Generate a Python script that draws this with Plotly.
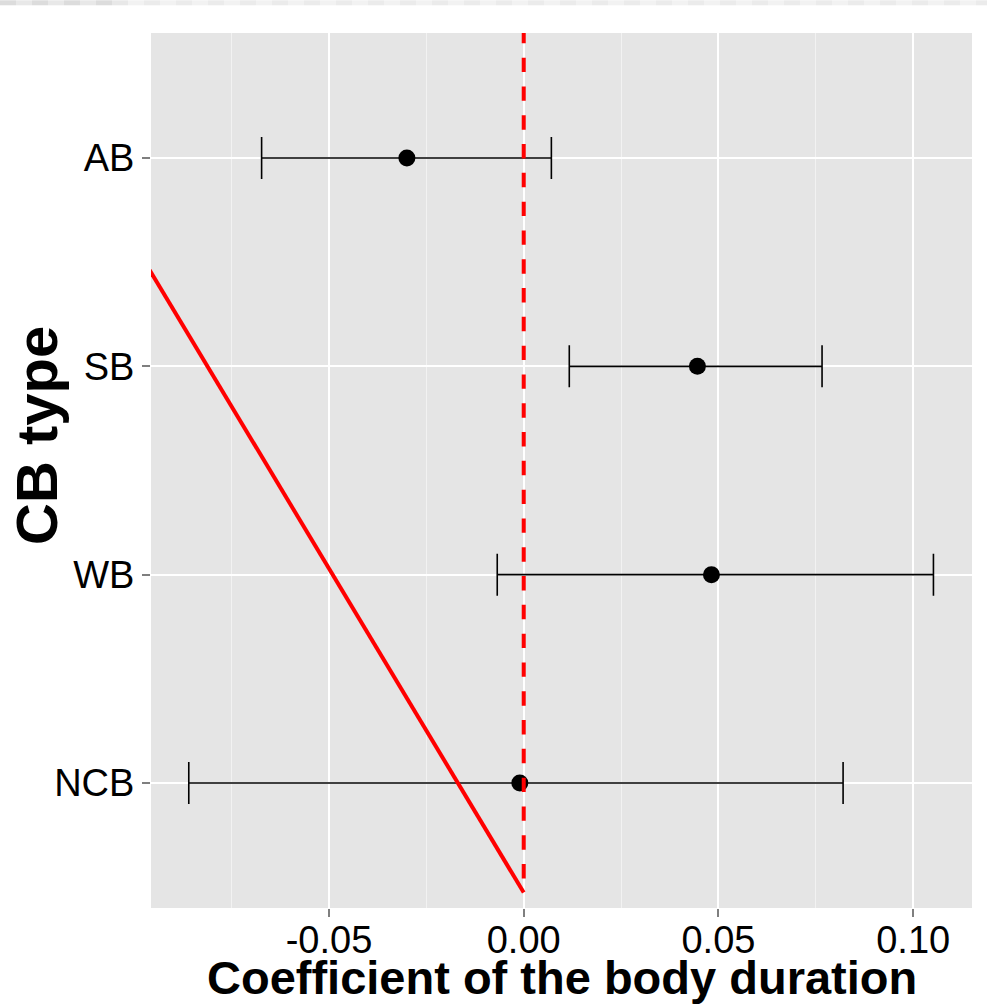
import plotly.graph_objects as go

# ---- data ----
categories = ["AB", "SB", "WB", "NCB"]
cat_pos = [4, 3, 2, 1]
estimate = [-0.0300, 0.0446, 0.0482, -0.0010]
ci_low = [-0.0673, 0.0117, -0.0068, -0.0860]
ci_high = [0.0071, 0.0766, 0.1052, 0.0820]

# reference lines (data coordinates)
diag_x = [-0.1, 0.0]
diag_y = [3.585, 0.474]
vline_x = [0.0, 0.0]
vline_y = [4.62, 0.474]

x_ticks = [-0.05, 0.0, 0.05, 0.10]
x_ticklabels = ["-0.05", "0.00", "0.05", "0.10"]

FONT = "Liberation Sans, Arial, Helvetica, sans-serif"

fig = go.Figure()

fig.add_trace(go.Scatter(
    x=estimate, y=cat_pos, mode="markers",
    marker=dict(color="black", size=17),
    error_x=dict(type="data", symmetric=False,
                 array=[h - e for h, e in zip(ci_high, estimate)],
                 arrayminus=[e - l for l, e in zip(ci_low, estimate)],
                 color="black", thickness=1.6, width=21),
    showlegend=False, hoverinfo="skip"))

fig.add_trace(go.Scatter(
    x=vline_x, y=vline_y, mode="lines",
    line=dict(color="#FF0000", width=4, dash="14.4px,14.4px"),
    showlegend=False, hoverinfo="skip"))

fig.add_trace(go.Scatter(
    x=diag_x, y=diag_y, mode="lines",
    line=dict(color="#FF0000", width=4),
    showlegend=False, hoverinfo="skip"))

fig.update_layout(
    width=987, height=1004,
    margin=dict(l=151, r=15, t=33, b=96, pad=0),
    paper_bgcolor="white",
    plot_bgcolor="#E5E5E5",
    font=dict(family=FONT, color="black"),
    showlegend=False,
)

fig.update_xaxes(
    range=[-0.0957, 0.1151],
    tickvals=x_ticks, ticktext=x_ticklabels,
    showgrid=True, gridcolor="white", gridwidth=1.5,
    minor=dict(dtick=0.025, tick0=0, showgrid=True, gridcolor="#F2F2F2", gridwidth=1),
    ticks="outside", ticklen=8, tickcolor="#7F7F7F", tickwidth=1.5,
    ticklabelstandoff=-10,
    tickfont=dict(size=38, color="black", family=FONT),
    zeroline=False, showline=False,
)

fig.update_yaxes(
    range=[0.4, 4.6],
    tickvals=cat_pos, ticktext=categories,
    showgrid=True, gridcolor="white", gridwidth=1.5,
    ticks="outside", ticklen=8, tickcolor="#7F7F7F", tickwidth=1.5,
    tickfont=dict(size=38, color="black", family=FONT),
    zeroline=False, showline=False,
)

# axis titles
fig.add_annotation(
    text="<b>Coefficient of the body duration</b>",
    xref="paper", yref="paper", x=0.5, y=-0.079,
    xanchor="center", yanchor="middle", showarrow=False,
    font=dict(size=47, family=FONT, color="black"))
fig.add_annotation(
    text="<b>CB type</b>",
    xref="paper", yref="paper", x=-0.1395, y=0.54,
    xanchor="center", yanchor="middle", showarrow=False, textangle=-90,
    font=dict(size=58, family=FONT, color="black"))

# faint checkered strip at the very top of the image
W, PH, PL = 987, 875, 151
shapes = []
x = 0
i = 0
while x < W:
    if x < 115:
        col = "#DCDCDC" if i % 2 == 0 else "#E8E8E8"
    else:
        col = "#F2F2F2" if i % 2 == 0 else "#EBEBEB"
    x1 = min(x + 16, W)
    shapes.append(dict(type="rect", xref="paper", yref="paper",
                       x0=(x - PL) / 821, x1=(x1 - PL) / 821,
                       y0=(907.7 - 5) / PH, y1=907.7 / PH,
                       fillcolor=col, line=dict(width=0), layer="above"))
    x = x1
    i += 1
fig.update_layout(shapes=shapes)

fig.write_html("out.html")
